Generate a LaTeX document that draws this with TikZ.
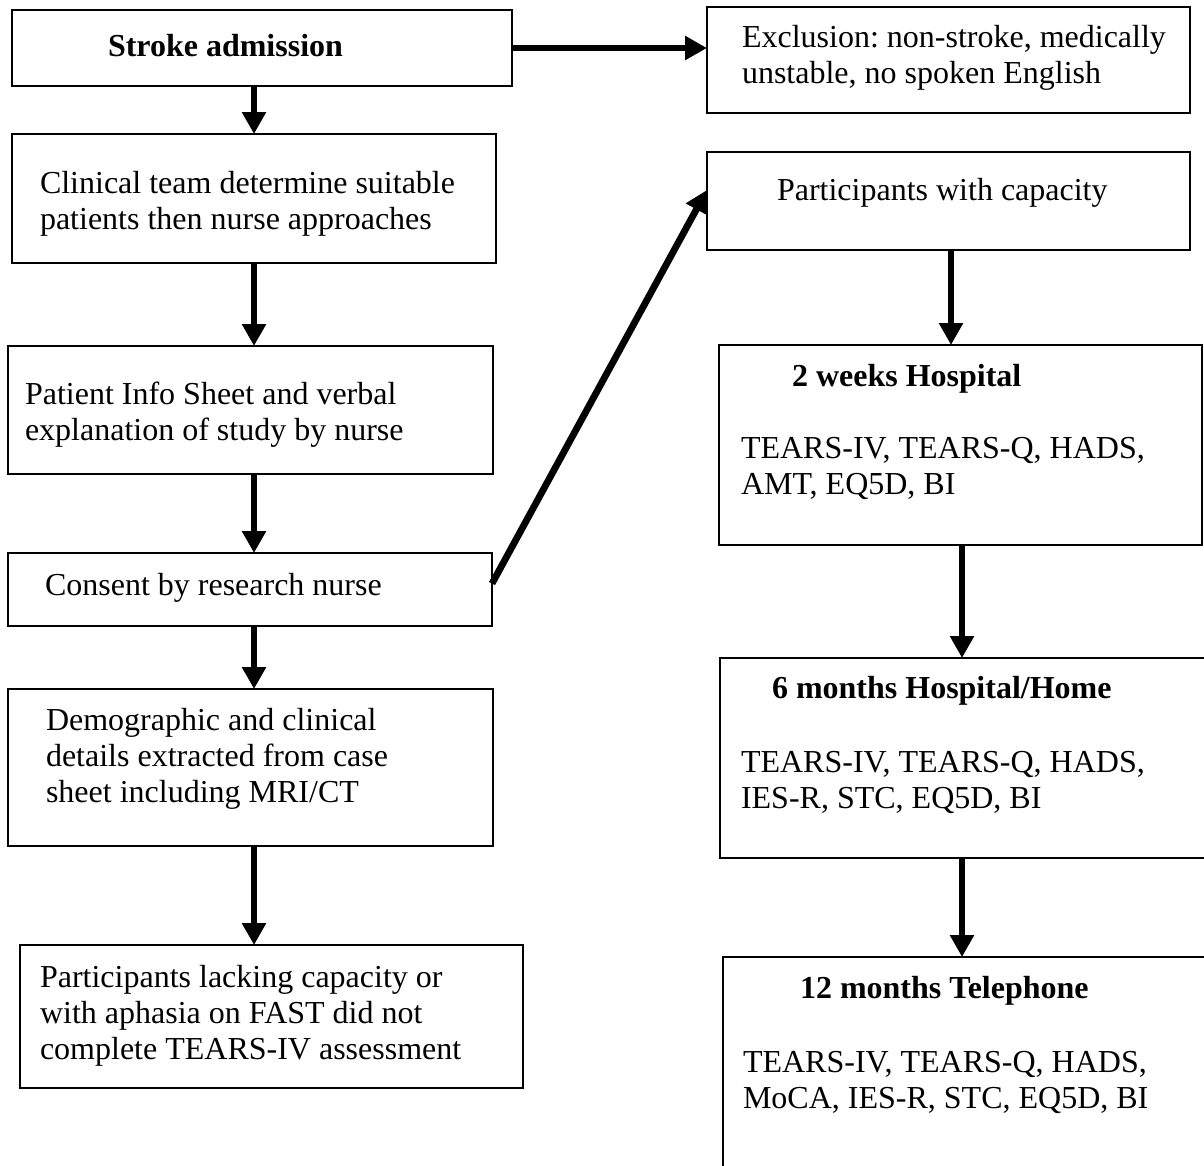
\documentclass[tikz,border=0pt]{standalone}
\usepackage{fontspec}
\setmainfont{Liberation Serif}
\usetikzlibrary{arrows.meta}
\frenchspacing
\begin{document}
\begin{tikzpicture}[x=1pt,y=-1pt,
  font=\fontsize{32}{36}\selectfont,
  box/.style={draw, line width=1.8pt, inner sep=0pt, outer sep=0pt, rectangle},
  arr/.style={line width=6.8pt, -{Triangle[width=23pt,length=22pt]}},
  txt/.style={anchor=north west, inner sep=0pt, outer sep=0pt, align=left}]
\useasboundingbox (0,0) rectangle (1204,1165);
\clip (0,0) rectangle (1204,1165);
% boxes
\node[box, minimum width=500, minimum height=76]  (stroke) at (262,48) {};
\node[box, minimum width=483, minimum height=106] (excl)   at (948.5,60) {};
\node[box, minimum width=484, minimum height=129] (clin)   at (254,198.5) {};
\node[box, minimum width=485, minimum height=128] (pat)    at (250.5,410) {};
\node[box, minimum width=484, minimum height=73]  (cons)   at (250,589.5) {};
\node[box, minimum width=485, minimum height=157] (demo)   at (250.5,767.5) {};
\node[box, minimum width=503, minimum height=143] (lack)   at (271.5,1016.5) {};
\node[box, minimum width=483, minimum height=98]  (pwc)    at (948.5,201) {};
\node[box, minimum width=483, minimum height=200] (wkii)   at (960.5,445) {};
\node[box, minimum width=490, minimum height=200] (movi)   at (965,758) {};
\node[box, minimum width=492, minimum height=223] (moxii)  at (969,1068.5) {};
% texts (y = baseline - 25.2)
\node[txt] (tstroke) at (108,30.8) {\strut\textbf{Stroke admission}};
\node[txt] (texcl) at (742,21.8) {\strut Exclusion: non-stroke, medically\\unstable, no spoken English};
\node[txt] (tclin) at (40,167.8) {\strut Clinical team determine suitable\\patients then nurse approaches};
\node[txt] (tpat) at (25,378.8) {\strut Patient Info Sheet and verbal\\explanation of study by nurse};
\node[txt] (tcons) at (45,569.8) {\strut Consent by research nurse};
\node[txt] (tdemo) at (46,704.8) {\strut Demographic and clinical\\details extracted from case\\sheet including MRI/CT};
\node[txt] (tlack) at (40,961.8) {\strut Participants lacking capacity or\\with aphasia on FAST did not\\complete TEARS-IV assessment};
\node[txt] (tpwc) at (777,174.8) {\strut Participants with capacity};
\node[txt] (twkiih) at (792,360.8) {\strut\textbf{2 weeks Hospital}};
\node[txt] (twkiib) at (741,432.8) {\strut TEARS-IV, TEARS-Q, HADS,\\AMT, EQ5D, BI};
\node[txt] (tmovih) at (772,672.8) {\strut\textbf{6 months Hospital/Home}};
\node[txt] (tmovib) at (741,746.8) {\strut TEARS-IV, TEARS-Q, HADS,\\IES-R, STC, EQ5D, BI};
\node[txt] (tmoxiih) at (800,972.8) {\strut\textbf{12 months Telephone}};
\node[txt] (tmoxiib) at (743,1046.8) {\strut TEARS-IV, TEARS-Q, HADS,\\MoCA, IES-R, STC, EQ5D, BI};
% connectors
\coordinate (rxa) at (951,0);
\coordinate (rxb) at (962,0);
\draw[arr] (stroke.east) -- (stroke.east -| excl.west);
\draw[arr] (clin.north |- stroke.south) -- (clin.north);
\draw[arr] (clin.south) -- (clin.south |- pat.north);
\draw[arr] (clin.south |- pat.south) -- (clin.south |- cons.north);
\draw[arr] (clin.south |- cons.south) -- (clin.south |- demo.north);
\draw[arr] (clin.south |- demo.south) -- (clin.south |- lack.north);
\draw[arr] ([yshift=6]cons.east) -- ([yshift=11]pwc.west);
\draw[arr] (rxa |- pwc.south) -- (rxa |- wkii.north);
\draw[arr] (rxb |- wkii.south) -- (rxb |- movi.north);
\draw[arr] (rxb |- movi.south) -- (rxb |- moxii.north);
\end{tikzpicture}
\end{document}
